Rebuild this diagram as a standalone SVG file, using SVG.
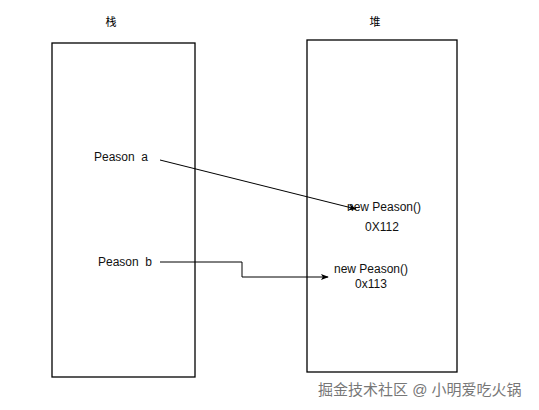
<svg xmlns="http://www.w3.org/2000/svg" width="539" height="410" viewBox="0 0 539 410">
<style>
.box{fill:#fff;stroke:#000;stroke-width:1.3}
.t{font-family:"Liberation Sans",Arial,sans-serif;font-size:12px;fill:#111;white-space:pre}
.cjk{font-family:"Liberation Sans","Noto Sans CJK SC",sans-serif;font-size:11px;fill:#000}
.wm{font-family:"Liberation Sans","Noto Sans CJK SC",sans-serif;font-size:15px;fill:#777}
.c{fill:none;stroke:#000;stroke-width:1}
</style>
<defs>
<marker id="ah" viewBox="0 0 10 10" refX="9" refY="5" markerWidth="8" markerHeight="8" orient="auto" markerUnits="userSpaceOnUse">
<path d="M0,1 L10,5 L0,9 L2.5,5 Z" fill="#000"/>
</marker>
</defs>
<rect width="539" height="410" fill="#fff"/>
<g id="stack">
<rect class="box" x="52" y="43" width="143" height="334"/>
<text class="cjk" x="111" y="26" text-anchor="middle">栈</text>
</g>
<g id="heap">
<rect class="box" x="307" y="40" width="150" height="332"/>
<text class="cjk" x="375" y="26" text-anchor="middle">堆</text>
</g>
<g id="pa"><text class="t" x="94" y="161" xml:space="preserve">Peason  a</text></g>
<g id="pb"><text class="t" x="98" y="266" xml:space="preserve">Peason  b</text></g>
<g id="obj1">
<text class="t" x="347" y="211">new Peason()</text>
<text class="t" x="365" y="231">0X112</text>
</g>
<g id="obj2">
<text class="t" x="334" y="273">new Peason()</text>
<text class="t" x="355" y="288">0x113</text>
</g>
<g id="connectors">
<path class="c" d="M160,160 L356,209" marker-end="url(#ah)"/>
<path class="c" d="M160,262 L242,262 L242,277 L328,277" marker-end="url(#ah)"/>
</g>
<text class="wm" x="318" y="395">掘金技术社区 @ 小明爱吃火锅</text>
</svg>
